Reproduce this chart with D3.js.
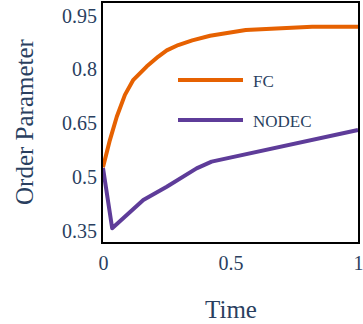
<!DOCTYPE html>
<html>
<head>
<meta charset="utf-8">
<script src="https://d3js.org/d3.v7.min.js"></script>
<style>
  body { margin: 0; background: white; }
  text { font-family: "Liberation Serif", "Times New Roman", serif; fill: #2a3f5f; }
</style>
</head>
<body>
<div id="container"></div>
<script>
// values
var fcTime   = [0, 0.027, 0.054, 0.086, 0.119, 0.171, 0.217, 0.25, 0.295, 0.35, 0.42, 0.56, 0.82, 1];
var fcValue  = [0.525, 0.601, 0.666, 0.727, 0.769, 0.806, 0.834, 0.851, 0.866, 0.879, 0.892, 0.908, 0.917, 0.917];
var nodecTime  = [0, 0.036, 0.158, 0.25, 0.367, 0.426, 1];
var nodecValue = [0.523, 0.355, 0.434, 0.471, 0.522, 0.541, 0.629];
var seriesNames = ["FC", "NODEC"];
var xTicks = [0, 0.5, 1];
var yTicks = [0.35, 0.5, 0.65, 0.8, 0.95];

var colors = ["#e66101", "#5e3c99"];

var svg = d3.select("#container").append("svg")
            .attr("width", 363).attr("height", 324);

var x = d3.scaleLinear().domain([0, 1]).range([103, 358]);
var y = d3.scaleLinear().domain([0.314, 0.986]).range([243, 2]);

var series = [
  fcTime.map(function(t, i){ return [t, fcValue[i]]; }),
  nodecTime.map(function(t, i){ return [t, nodecValue[i]]; })
];

var line = d3.line()
             .x(function(d){ return x(d[0]); })
             .y(function(d){ return y(d[1]); });

svg.append("g").selectAll("path")
   .data(series).enter().append("path")
   .attr("d", line)
   .attr("fill", "none")
   .attr("stroke", function(d, i){ return colors[i]; })
   .attr("stroke-width", 4)
   .attr("stroke-linejoin", "round");

// frame
svg.append("rect")
   .attr("x", 102).attr("y", 2)
   .attr("width", 257).attr("height", 241)
   .attr("fill", "none")
   .attr("stroke", "black")
   .attr("stroke-width", 2);

// y axis (labels only)
var yAxis = svg.append("g").attr("transform", "translate(97,0)")
               .call(d3.axisLeft(y).tickValues(yTicks).tickSize(0).tickPadding(0)
                       .tickFormat(function(d){ return String(d); }));
yAxis.select(".domain").remove();
yAxis.selectAll("text").attr("font-size", 20).attr("font-family", null)
     .attr("fill", null).attr("dy", "0.36em");

// x axis (labels only)
var xAxis = svg.append("g").attr("transform", "translate(0,256)")
               .call(d3.axisBottom(x).tickValues(xTicks).tickSize(0).tickPadding(0)
                       .tickFormat(function(d){ return String(d); }));
xAxis.select(".domain").remove();
xAxis.selectAll("text").attr("font-size", 20).attr("font-family", null)
     .attr("fill", null).attr("dy", "0.71em");

// axis titles
svg.append("text")
   .text("Time")
   .attr("x", 231).attr("y", 318)
   .attr("text-anchor", "middle")
   .attr("font-size", 25);

svg.append("text")
   .text("Order Parameter")
   .attr("transform", "translate(33,122) rotate(-90)")
   .attr("text-anchor", "middle")
   .attr("font-size", 25);

// legend
var legend = svg.append("g").selectAll("g")
                .data(seriesNames).enter().append("g")
                .attr("transform", function(d, i){ return "translate(178," + (80 + i*40) + ")"; });
legend.append("line")
      .attr("x1", 0).attr("x2", 65)
      .attr("stroke", function(d, i){ return colors[i]; })
      .attr("stroke-width", 4);
legend.append("text")
      .text(function(d){ return d; })
      .attr("x", 75).attr("y", 7)
      .attr("font-size", 17);
</script>
</body>
</html>
